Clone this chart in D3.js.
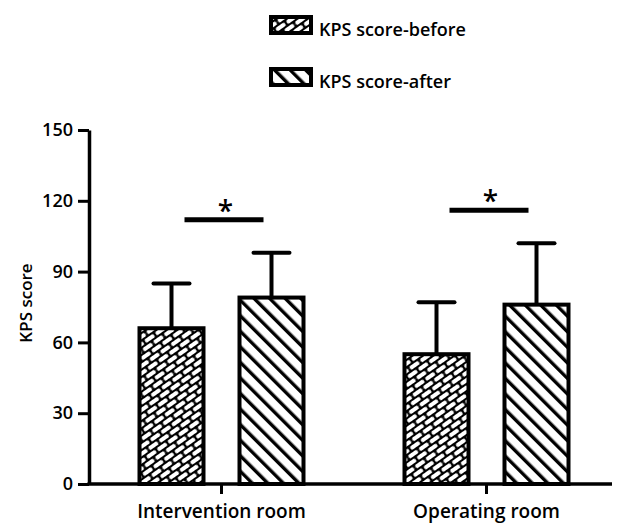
<!DOCTYPE html>
<html><head><meta charset="utf-8">
<script src="https://cdn.jsdelivr.net/npm/d3@7"></script>
<style>body{margin:0;background:#fff}svg{display:block}text{font-family:"Open Sans",sans-serif;font-weight:600;fill:#000}</style>
</head><body>
<svg id="c" width="622" height="523"></svg>
<script>
const groups = ["Intervention room", "Operating room"];
const series = ["KPS score-before", "KPS score-after"];
const means = [[66, 79], [55, 76]];
const sds = [[19, 19], [22, 26]];
const sigLevel = [112, 116];
const yTicks = [0, 30, 60, 90, 120, 150];

const svg = d3.select("#c");
const defs = svg.append("defs");
// brick pattern
const p1 = defs.append("pattern").attr("id","pBrick").attr("patternUnits","userSpaceOnUse")
  .attr("width",13).attr("height",12).attr("patternTransform","rotate(-35)");
p1.append("rect").attr("width",13).attr("height",12).attr("fill","#000");
[[1.1,1.1],[7.6,7.1],[-5.4,7.1]].forEach(([x,y])=>p1.append("rect").attr("x",x).attr("y",y).attr("width",10.8).attr("height",3.9).attr("rx",1.5).attr("fill","#fff"));
// diagonal lines
const p2 = defs.append("pattern").attr("id","pDiag").attr("patternUnits","userSpaceOnUse")
  .attr("width",11).attr("height",11).attr("patternTransform","rotate(-45)");
p2.append("rect").attr("width",11).attr("height",11).attr("fill","#fff");
p2.append("rect").attr("x",0).attr("y",0).attr("width",3.4).attr("height",11).attr("fill","#000");
const fills = ["url(#pBrick)","url(#pDiag)"];

const y = d3.scaleLinear().domain([0,150]).range([484,130]);
const x0 = d3.scaleBand().domain(groups).range([89,619]);
const x1 = d3.scaleBand().domain(series).range([0,x0.bandwidth()]).paddingInner(0.36).paddingOuter(0.505);

// bars
groups.forEach((g,gi)=>{
  series.forEach((s,si)=>{
    const bx = x0(g)+x1(s), bw = x1.bandwidth(), cx = bx+bw/2;
    const top = y(means[gi][si]), cap = y(means[gi][si]+sds[gi][si]);
    svg.append("line").attr("x1",cx).attr("x2",cx).attr("y1",top).attr("y2",cap).attr("stroke","#000").attr("stroke-width",4);
    svg.append("line").attr("x1",cx-18).attr("x2",cx+18).attr("y1",cap).attr("y2",cap).attr("stroke","#000").attr("stroke-width",4).attr("stroke-linecap","round");
    svg.append("rect").attr("x",bx).attr("y",top).attr("width",bw).attr("height",y(0)-top)
      .attr("fill",fills[si]).attr("stroke","#000").attr("stroke-width",4);
  });
  const c = x0(g)+x0.bandwidth()/2;
  const ly = y(sigLevel[gi]);
  svg.append("line").attr("x1",c-37).attr("x2",c+42).attr("y1",ly).attr("y2",ly).attr("stroke","#000").attr("stroke-width",5);
  svg.append("text").attr("x",c+4).attr("y",ly+1).attr("text-anchor","middle").attr("font-size",28).attr("font-weight",600).text("*");
});

// axes
const ya = svg.append("g").attr("transform","translate(89,0)")
  .call(d3.axisLeft(y).tickValues(yTicks).tickSize(11).tickPadding(5).tickSizeOuter(0));
ya.select(".domain").attr("stroke-width",3.5);
ya.selectAll(".tick line").attr("stroke-width",3);
ya.selectAll(".tick text").attr("font-size",18).attr("font-family","Open Sans").attr("font-weight",600);

const xa = svg.append("g").attr("transform","translate(0,484)")
  .call(d3.axisBottom(x0).tickSize(10).tickPadding(11).tickSizeOuter(0));
xa.select(".domain").attr("stroke-width",3.5).attr("d","M87.5,0H612");
xa.selectAll(".tick line").attr("stroke-width",3);
xa.selectAll(".tick text").attr("font-size",19).attr("font-family","Open Sans").attr("font-weight",600);

svg.append("text").attr("transform","translate(32,303) rotate(-90)").attr("text-anchor","middle").attr("font-size",17).text("KPS score");

// legend
const lg = svg.append("g");
series.forEach((s,i)=>{
  const yy = 17 + i*52;
  lg.append("rect").attr("x",271).attr("y",yy).attr("width",40).attr("height",16).attr("fill",fills[i]).attr("stroke","#000").attr("stroke-width",4);
  lg.append("text").attr("x",319).attr("y",yy+19).attr("font-size",18).text(s);
});
</script>
</body></html>
